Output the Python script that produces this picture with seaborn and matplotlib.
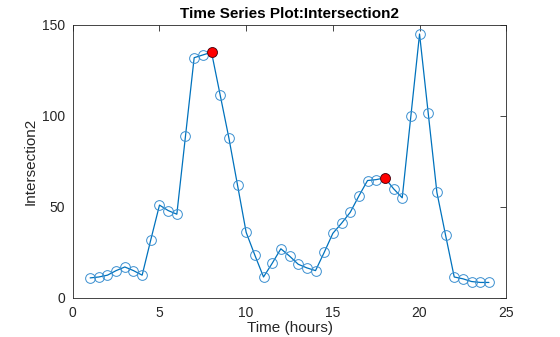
import numpy as np
import pandas as pd
import matplotlib
matplotlib.use("Agg")
import matplotlib.pyplot as plt
import seaborn as sns

# Half-hourly traffic counts at Intersection2
hours = [1, 1.5, 2, 2.5, 3, 3.5, 4, 4.5, 5, 5.5, 6, 6.5, 7, 7.5, 8, 8.5, 9, 9.5,
         10, 10.5, 11, 11.5, 12, 12.5, 13, 13.5, 14, 14.5, 15, 15.5, 16, 16.5,
         17, 17.5, 18, 18.5, 19, 19.5, 20, 20.5, 21, 21.5, 22, 22.5, 23, 23.5, 24]
counts = [11, 11.5, 12.5, 15, 17, 15, 12.5, 32, 51, 48, 46, 89, 132, 133.5, 135,
          111.5, 88, 62, 36, 23.5, 11.5, 19, 27, 23, 18.5, 16.5, 15, 25, 35.5,
          41, 47, 56, 64.5, 65, 66, 60, 55, 100, 145, 101.5, 58, 34.5, 11.5,
          10.5, 9, 8.5, 8.5]

# Highlighted peak samples
peak_hours = [8, 18]
peak_counts = [135, 66]

df = pd.DataFrame({"Time (hours)": hours, "Intersection2": counts})
peaks = pd.DataFrame({"Time (hours)": peak_hours, "Intersection2": peak_counts})

sns.set_style("white")
plt.rcParams["font.family"] = ["Liberation Sans", "DejaVu Sans"]

fig = plt.figure(figsize=(5.6, 3.37), dpi=100)
ax = fig.add_axes([0.13, 0.116, 0.774, 0.81])

line_color = "#0072BD"
sns.lineplot(data=df, x="Time (hours)", y="Intersection2", ax=ax,
             color=line_color, linewidth=0.9, marker="o", markersize=7,
             markerfacecolor="none", markeredgecolor="#3a8fd0",
             markeredgewidth=0.7)
sns.scatterplot(data=peaks, x="Time (hours)", y="Intersection2", ax=ax,
                color="red", edgecolor="#600000", linewidth=0.6, s=50, zorder=5)

ax.set_xlim(0, 25)
ax.set_ylim(0, 150)
ax.set_xticks([0, 5, 10, 15, 20, 25])
ax.set_yticks([0, 50, 100, 150])
ax.tick_params(direction="in", length=4, width=0.6, top=True, right=True,
               labelsize=10, colors="#262626", pad=5.5)
for s in ax.spines.values():
    s.set_visible(True)
    s.set_linewidth(0.6)
    s.set_color("#262626")

ax.set_xlabel("Time (hours)", fontsize=11, color="#262626", labelpad=1)
ax.set_ylabel("Intersection2", fontsize=11, color="#262626", labelpad=3)
ax.set_title("Time Series Plot:Intersection2", fontsize=11, fontweight="bold",
             color="#000000", pad=5)

fig.savefig("out.png", dpi=100)
